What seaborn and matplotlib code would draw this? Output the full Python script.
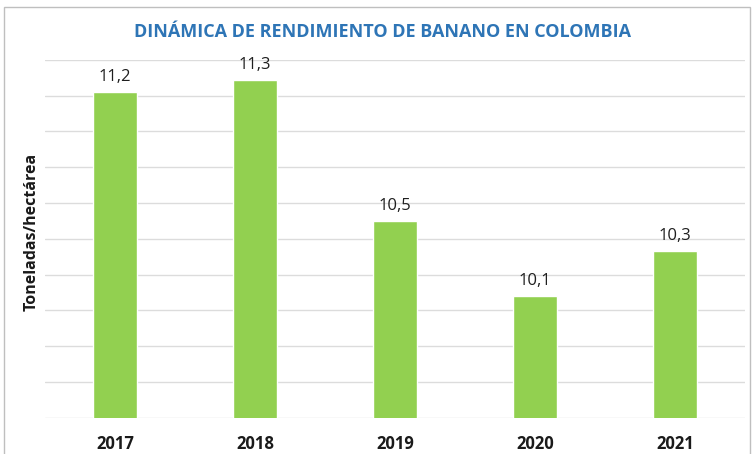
import pandas as pd
import matplotlib.pyplot as plt
import seaborn as sns
from matplotlib.patches import Rectangle

# Rendimiento de banano (t/ha)
years = ["2017", "2018", "2019", "2020", "2021"]
values = [11.22, 11.29, 10.50, 10.08, 10.33]
labels = ["11,2", "11,3", "10,5", "10,1", "10,3"]

data = pd.DataFrame({"Año": years, "Rendimiento": values})

sns.set_style("white")
plt.rcParams["font.family"] = ["Open Sans", "DejaVu Sans"]

fig = plt.figure(figsize=(7.52, 4.54), dpi=100)
ax = fig.add_axes([0.0598, 0.080, 0.931, 0.788])

sns.barplot(data=data, x="Año", y="Rendimiento", color="#92D050",
            saturation=1, width=0.31, ax=ax, zorder=3)

ax.set_ylim(9.4, 11.4)
ax.set_xlim(-0.5, 4.5)
ax.set_yticks([9.4 + 0.2 * i for i in range(11)])
ax.yaxis.grid(True, color="#DCDCDC", linewidth=1)
ax.tick_params(axis="y", left=False, labelleft=False)
ax.tick_params(axis="x", bottom=False, labelsize=12, pad=9)
for lbl in ax.get_xticklabels():
    lbl.set_fontweight("bold")
    lbl.set_color("#1A1A1A")
for s in ax.spines.values():
    s.set_visible(False)

ax.set_xlabel("")
ax.set_ylabel("Toneladas/hectárea", fontsize=11.5, fontweight="bold", color="#1A1A1A")
ax.yaxis.set_label_coords(-0.008, 0.52)

for i, (v, t) in enumerate(zip(values, labels)):
    ax.annotate(t, (i, v), xytext=(0, 5), textcoords="offset points",
                ha="center", va="bottom", fontsize=12, color="#1F1F1F")

fig.text(0.508, 0.93, "DINÁMICA DE RENDIMIENTO DE BANANO EN COLOMBIA",
         ha="center", va="center", fontsize=13, fontweight="bold", color="#2E75B6")

# marco gris del grafico
fig.patches.append(Rectangle((0.005, -0.01), 0.992, 0.995, transform=fig.transFigure,
                             fill=False, edgecolor="#BFBFBF", linewidth=1))

fig.savefig("out.png", dpi=100)
